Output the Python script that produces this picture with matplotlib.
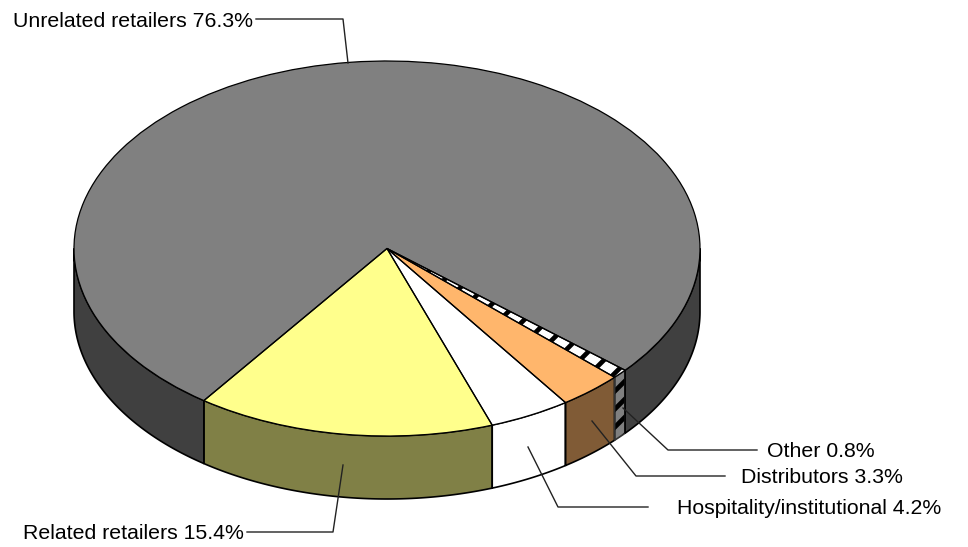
import numpy as np
import matplotlib
matplotlib.use('Agg')
from matplotlib import pyplot as plt
from matplotlib.patches import Wedge, Polygon
from matplotlib.transforms import Affine2D

# slices, in drawing order starting from the front left
labels = ['Related retailers', 'Hospitality/institutional', 'Distributors', 'Other', 'Unrelated retailers']
values = [15.4, 4.2, 3.3, 0.8, 76.3]
top_colors = ['#FFFF8C', '#FFFFFF', '#FFB66C', '#FFFFFF', '#808080']
side_colors = ['#808046', '#FFFFFF', '#805B36', '#808080', '#404040']
striped = [False, False, False, True, False]

# label text position and leader line, in pixels of the picture
label_x = [23, 677, 741, 767, 13]
label_y = [532, 507, 476, 450, 20]
leaders = [
    [(247, 532), (333, 532), (343, 465)],
    [(648, 507), (558, 507), (528, 447)],
    [(725, 476), (636, 476), (592, 421)],
    [(757, 450), (668, 450), (623, 408)],
    [(256, 19), (343, 19), (348, 63)],
]

cx, cy = 387, 248.5
rx, ry = 313, 187.5
depth = 63
start = 125.8

plt.rcParams['font.family'] = ['Liberation Sans', 'DejaVu Sans']

fig = plt.figure(figsize=(9.68, 5.47), dpi=100)
ax = fig.add_axes([0, 0, 1, 1])
ax.set_xlim(0, 968)
ax.set_ylim(547, 0)
ax.axis('off')

def rim(t0, t1):
    t = np.radians(np.linspace(t0, t1, 100))
    return np.column_stack([cx + rx * np.cos(t), cy + ry * np.sin(t)])

def add_stripes(patch, step, zorder):
    # black diagonal bands, kept inside the slice by the clip
    for c in np.arange(700, 1200, step):
        line, = ax.plot([c - 600, c], [600, 0], color='black', lw=3.4,
                        solid_capstyle='butt', zorder=zorder)
        line.set_clip_path(patch)

# angles run clockwise on screen, 0 at the right side of the ellipse
angles = start - np.cumsum([0] + values) * 3.6
ellipse = Affine2D().scale(rx, ry).translate(cx, cy) + ax.transData

# outer walls, only the front half of the ellipse shows
for i in range(len(values)):
    hi, lo = angles[i], angles[i + 1]
    for a, b in [(lo, hi), (lo + 360, hi + 360)]:
        a, b = max(a, 0), min(b, 180)
        if a >= b:
            continue
        top = rim(a, b)
        bottom = top[::-1] + [0, depth]
        wall = Polygon(np.vstack([top, bottom]), closed=True, facecolor=side_colors[i],
                       edgecolor='none', zorder=2)
        ax.add_patch(wall)
        if striped[i]:
            add_stripes(wall, 18, 2.1)
        ax.add_patch(Polygon(np.vstack([top, bottom]), closed=True, fill=False,
                             edgecolor='#333333' if striped[i] else 'black',
                             lw=1.2, zorder=2.2))

# top faces
for i in range(len(values)):
    face = Wedge((0, 0), 1, angles[i + 1], angles[i], transform=ellipse,
                 facecolor=top_colors[i], edgecolor='none', zorder=3)
    ax.add_patch(face)
    if striped[i]:
        add_stripes(face, 24, 3.1)
    ax.add_patch(Wedge((0, 0), 1, angles[i + 1], angles[i], transform=ellipse,
                       fill=False, edgecolor='black', lw=0.9, zorder=3.2))

for i in range(len(values)):
    pts = np.array(leaders[i])
    ax.plot(pts[:, 0], pts[:, 1], color='#222222', lw=1.0, zorder=4)
    ax.text(label_x[i], label_y[i] + 1.5, f'{labels[i]} {values[i]}%', fontsize=15.3,
            ha='left', va='center', color='black', zorder=5)

fig.savefig('out.png', dpi=100)
